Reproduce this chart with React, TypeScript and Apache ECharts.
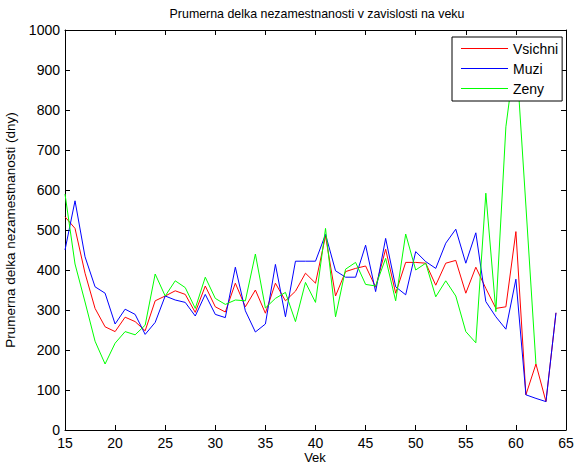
import React, { useEffect, useRef } from "react";
import * as echarts from "echarts";

const ages: number[] = [];
for (let a = 15; a <= 64; a++) ages.push(a);

const vsichni = [
  533, 504, 392, 304, 258, 246, 282, 271, 248, 323,
  335, 348, 339, 294, 360, 308, 295, 367, 308, 350,
  292, 367, 323, 347, 392, 367, 485, 335, 396, 404,
  410, 357, 452, 342, 419, 419, 417, 362, 417, 424,
  342, 407, 354, 304, 308, 496, 88, 165, 71, 293,
];

const muzi = [
  450, 573, 433, 358, 342, 265, 302, 289, 239, 269,
  335, 325, 319, 285, 339, 289, 281, 407, 298, 245,
  265, 414, 283, 422, 422, 422, 489, 398, 382, 382,
  462, 346, 479, 358, 338, 446, 421, 404, 467, 502,
  417, 493, 321, 283, 252, 377, 88, 79, 71, 293,
];

const zeny: (number | null)[] = [
  590, 415, 320, 222, 165, 217, 246, 238, 262, 390,
  335, 373, 356, 304, 382, 329, 314, 325, 323, 440,
  305, 329, 344, 271, 369, 319, 504, 283, 402, 419,
  364, 360, 429, 323, 490, 400, 417, 333, 373, 335,
  246, 218, 592, 296, 758, 950, 560, 165, null, null,
];

const seriesNames = ["Vsichni", "Muzi", "Zeny"];
const seriesColors = ["#ff0000", "#0000ff", "#00ff00"];
const xAxisTitle = "Vek";

const FONT = "'Liberation Sans', Arial, Helvetica, sans-serif";

function toPairs(vals: (number | null)[]) {
  const out: [number, number][] = [];
  vals.forEach((v, i) => {
    if (v !== null) out.push([ages[i], v]);
  });
  return out;
}

export default function App() {
  const ref = useRef<HTMLDivElement>(null);
  useEffect(() => {
    if (!ref.current) return;
    const chart = echarts.init(ref.current, undefined, { renderer: "svg" });
    const dataSets = [vsichni, muzi, zeny];
    const axisCommon = {
      axisLine: { show: true, onZero: false, lineStyle: { color: "#000", width: 1 } },
      axisTick: { show: true, inside: true, length: 5, lineStyle: { color: "#000" } },
      splitLine: { show: false },
    };
    chart.setOption({
      animation: false,
      backgroundColor: "#fff",
      textStyle: { fontFamily: FONT },
      title: {
        text: "Prumerna delka nezamestnanosti v zavislosti na veku",
        left: 312,
        top: 3,
        textAlign: "center",
        textStyle: { fontFamily: FONT, fontSize: 12.4, fontWeight: "normal", color: "#000" },
      },
      graphic: [
        {
          type: "text",
          x: 315,
          y: 457,
          style: {
            text: xAxisTitle,
            fill: "#000",
            font: `13px ${FONT}`,
            textAlign: "center",
            textVerticalAlign: "middle",
          },
        },
      ],
      grid: {
        left: 65,
        right: 15,
        top: 30,
        bottom: 37,
        show: false,
        containLabel: false,
        outerBoundsMode: "none",
      },
      legend: {
        data: seriesNames,
        orient: "vertical",
        left: 452,
        top: 37,
        padding: [4, 4, 5, 9],
        itemGap: 5,
        itemWidth: 47,
        itemHeight: 1,
        icon: "rect",
        backgroundColor: "#fff",
        borderColor: "#000",
        borderWidth: 1,
        borderRadius: 0,
        z: 20,
        textStyle: { fontFamily: FONT, fontSize: 14, color: "#000", lineHeight: 15 },
      },
      xAxis: [
        {
          type: "value",
          min: 15,
          max: 65,
          interval: 5,
          position: "bottom",
          axisLabel: { fontFamily: FONT, fontSize: 14, color: "#000", margin: 6 },
          ...axisCommon,
        },
        {
          type: "value",
          min: 15,
          max: 65,
          interval: 5,
          position: "top",
          axisLabel: { show: false },
          ...axisCommon,
        },
      ],
      yAxis: [
        {
          type: "value",
          min: 0,
          max: 1000,
          interval: 100,
          position: "left",
          name: "Prumerna delka nezamestnanosti (dny)",
          nameLocation: "middle",
          nameRotate: 90,
          nameGap: 46,
          nameTextStyle: { fontFamily: FONT, fontSize: 13.5, color: "#000" },
          axisLabel: {
            fontFamily: FONT,
            fontSize: 14,
            color: "#000",
            margin: 5,
            formatter: (v: number) => String(v),
          },
          ...axisCommon,
        },
        {
          type: "value",
          min: 0,
          max: 1000,
          interval: 100,
          position: "right",
          axisLabel: { show: false },
          ...axisCommon,
        },
      ],
      series: dataSets.map((vals, i) => ({
        name: seriesNames[i],
        type: "line",
        xAxisIndex: 0,
        yAxisIndex: 0,
        data: toPairs(vals),
        symbol: "none",
        showSymbol: false,
        clip: true,
        color: seriesColors[i],
        lineStyle: { color: seriesColors[i], width: 1 },
        itemStyle: { color: seriesColors[i] },
        z: 2 + i,
      })),
    });
    return () => chart.dispose();
  }, []);
  return (
    <div
      ref={ref}
      style={{ position: "fixed", left: 0, top: 0, width: 581, height: 467 }}
    />
  );
}
